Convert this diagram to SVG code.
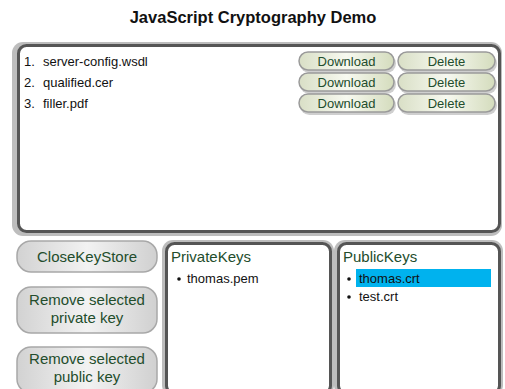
<svg xmlns="http://www.w3.org/2000/svg" width="505" height="389" viewBox="0 0 505 389">
  <defs>
    <linearGradient id="gBtn" x1="0" y1="0" x2="1" y2="0">
      <stop offset="0" stop-color="#d9dfc6"/>
      <stop offset="0.5" stop-color="#f7f9f0"/>
      <stop offset="1" stop-color="#d4dcbd"/>
    </linearGradient>
    <linearGradient id="gGray" x1="0" y1="0" x2="1" y2="0">
      <stop offset="0" stop-color="#d2d2d2"/>
      <stop offset="0.5" stop-color="#f2f2f2"/>
      <stop offset="1" stop-color="#d0d0d0"/>
    </linearGradient>
  </defs>
  <style>
    text { font-family: "Liberation Sans", Arial, sans-serif; }
    .title { font-size: 16.5px; font-weight: bold; fill: #111; }
    .item { font-size: 13px; fill: #111; }
    .lbl { font-size: 15px; fill: #234d2c; }
    .btxt { font-size: 13px; fill: #234d2c; text-anchor: middle; }
    .gtxt { font-size: 15px; fill: #234d2c; text-anchor: middle; }
    .halo { fill: #bdbdbd; }
    .frame { fill: #fff; stroke: #555; stroke-width: 3; }
    .gbtn { fill: url(#gBtn); stroke: #9a9a9a; stroke-width: 1.5; }
    .gray { fill: url(#gGray); stroke: #a8a8a8; stroke-width: 1.5; }
    .shadow { fill: #cfcfcf; }
  </style>
  <rect width="505" height="389" fill="#fff"/>

  <text class="title" x="253" y="23" text-anchor="middle">JavaScript Cryptography Demo</text>

  <!-- file list panel -->
  <g id="files">
    <rect class="halo" x="12" y="42" width="490" height="194" rx="11"/>
    <rect class="frame" x="18.5" y="45.5" width="481" height="186" rx="8"/>
    <text class="item" x="24" y="66">1.</text><text class="item" x="43" y="66">server-config.wsdl</text>
    <text class="item" x="24" y="87">2.</text><text class="item" x="43" y="87">qualified.cer</text>
    <text class="item" x="24" y="108">3.</text><text class="item" x="43" y="108">filler.pdf</text>
  </g>

  <!-- per-file actions -->
  <g id="actions">
    <rect class="shadow" x="300" y="54" width="96" height="19" rx="9.5"/>
    <rect class="shadow" x="399" y="54" width="98" height="19" rx="9.5"/>
    <rect class="shadow" x="300" y="75" width="96" height="19" rx="9.5"/>
    <rect class="shadow" x="399" y="75" width="98" height="19" rx="9.5"/>
    <rect class="shadow" x="300" y="96" width="96" height="19" rx="9.5"/>
    <rect class="shadow" x="399" y="96" width="98" height="19" rx="9.5"/>
    <g id="dl1"><rect class="gbtn" x="299" y="52" width="95" height="18" rx="9"/><text class="btxt" x="346.5" y="66">Download</text></g>
    <g id="del1"><rect class="gbtn" x="398" y="52" width="97" height="18" rx="9"/><text class="btxt" x="446.5" y="66">Delete</text></g>
    <g id="dl2"><rect class="gbtn" x="299" y="73" width="95" height="18" rx="9"/><text class="btxt" x="346.5" y="87">Download</text></g>
    <g id="del2"><rect class="gbtn" x="398" y="73" width="97" height="18" rx="9"/><text class="btxt" x="446.5" y="87">Delete</text></g>
    <g id="dl3"><rect class="gbtn" x="299" y="94" width="95" height="18" rx="9"/><text class="btxt" x="346.5" y="108">Download</text></g>
    <g id="del3"><rect class="gbtn" x="398" y="94" width="97" height="18" rx="9"/><text class="btxt" x="446.5" y="108">Delete</text></g>
  </g>

  <!-- key store buttons -->
  <g id="closeKeyStore">
    <rect class="gray" x="17" y="241" width="140" height="31" rx="14"/>
    <text class="gtxt" x="87" y="262">CloseKeyStore</text>
  </g>
  <g id="removePrivate">
    <rect class="gray" x="17" y="287" width="140" height="46" rx="14"/>
    <text class="gtxt" x="87" y="305">Remove selected</text>
    <text class="gtxt" x="87" y="323">private key</text>
  </g>
  <g id="removePublic">
    <rect class="gray" x="17" y="347" width="140" height="46" rx="14"/>
    <text class="gtxt" x="87" y="364">Remove selected</text>
    <text class="gtxt" x="87" y="382">public key</text>
  </g>

  <!-- private keys panel -->
  <g id="privateKeys">
    <rect class="halo" x="162" y="240" width="172" height="156" rx="11"/>
    <rect class="frame" x="166.5" y="243.5" width="164" height="150" rx="8"/>
    <text class="lbl" x="171" y="262">PrivateKeys</text>
    <circle cx="179" cy="279" r="1.8" fill="#111"/>
    <text class="item" x="187" y="283">thomas.pem</text>
  </g>

  <!-- public keys panel -->
  <g id="publicKeys">
    <rect class="halo" x="334" y="240" width="169" height="156" rx="11"/>
    <rect class="frame" x="338.5" y="243.5" width="161" height="150" rx="8"/>
    <text class="lbl" x="343" y="262">PublicKeys</text>
    <rect x="356" y="269" width="135" height="18" fill="#00b2ee"/>
    <circle cx="349" cy="279" r="1.8" fill="#111"/>
    <text class="item" x="359" y="283">thomas.crt</text>
    <circle cx="349" cy="297" r="1.8" fill="#111"/>
    <text class="item" x="359" y="301">test.crt</text>
  </g>
</svg>
